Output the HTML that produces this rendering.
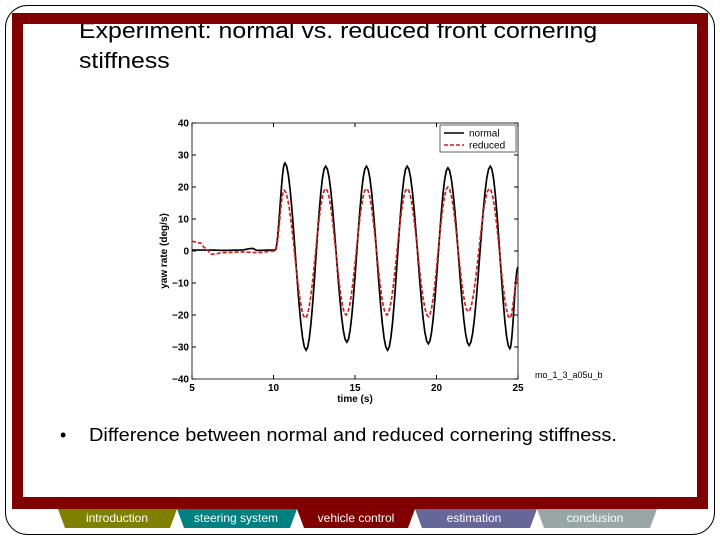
<!DOCTYPE html>
<html><head><meta charset="utf-8"><style>
body{margin:0;background:#fff;font-family:"Liberation Sans",sans-serif;}
#page{position:relative;width:720px;height:540px;overflow:hidden;background:#fff;}
</style></head><body>
<div id="page">
<svg width="720" height="540" style="position:absolute;left:0;top:0">
<rect x="5.5" y="5.5" width="709" height="529" rx="22" fill="#fff" stroke="#000" stroke-width="1"/>
<rect x="12" y="13" width="696" height="496" fill="#800000"/>
<rect x="23" y="24" width="674" height="473" fill="#fff"/>
</svg>
<div style="position:absolute;left:0;top:24px;width:720px;height:60px;overflow:hidden">
<div style="position:absolute;left:79px;top:-8px;font-size:22px;line-height:30px;color:#000;transform:scaleX(1.13);transform-origin:0 0;white-space:nowrap">Experiment: normal vs. reduced front cornering<br>stiffness</div>
</div>
<svg id="chart" width="720" height="540" style="position:absolute;left:0;top:0"></svg>
<div style="position:absolute;left:60px;top:425px;font-size:18px">•</div>
<div style="position:absolute;left:89px;top:425px;font-size:18px;transform:scaleX(1.11);transform-origin:0 0;white-space:nowrap">Difference between normal and reduced cornering stiffness.</div>
<svg width="720" height="540" style="position:absolute;left:0;top:0;pointer-events:none">
<g font-family="Liberation Sans" font-size="12" fill="#fff" text-anchor="middle">
<polygon points="58,509 177,509 170,528 65,528" fill="#808000"/>
<polygon points="177,509 297,509 290,528 184,528" fill="#008080"/>
<polygon points="297,509 415,509 408,528 304,528" fill="#800000"/>
<polygon points="415,509 537,509 530,528 422,528" fill="#666699"/>
<polygon points="537,509 657,509 650,528 544,528" fill="#99a6a6"/>
<text x="117" y="522">introduction</text>
<text x="236" y="522">steering system</text>
<text x="356" y="522">vehicle control</text>
<text x="474" y="522">estimation</text>
<text x="595" y="522">conclusion</text>
</g></svg>
</div>
<script>
const xTicks=[5,10,15,20,25];
const yTicks=[40,30,20,10,0,-10,-20,-30,-40];
const normalT=[5,6,7,8,8.7,9,10.1,10.7,12.0,13.2,14.5,15.7,17.0,18.2,19.5,20.7,22.0,23.3,24.5,25];
const normalV=[0.3,0.3,0.2,0.3,0.8,0.2,0.3,27.5,-31,26.5,-28.5,26.5,-31,26.5,-29,26,-29.5,26.5,-30.5,-5];
const reducedT=[5,5.5,5.8,6.2,7,8,9,10.1,10.65,11.95,13.2,14.45,15.7,16.95,18.2,19.5,20.7,21.95,23.25,24.5,25];
const reducedV=[3,2.5,1,-1,-0.5,-0.3,-0.5,0,19,-21,19.5,-20,19.5,-20,19.5,-20.5,20,-19,19.5,-21,-8];
const svg=document.getElementById('chart');const NS='http://www.w3.org/2000/svg';
const X0=192,X1=518,Y0=379,Y1=123;
const sx=t=>X0+(t-5)/20*(X1-X0);
const sy=v=>Y0-(v+40)/80*(Y0-Y1);
function mk(tag,a,p){const e=document.createElementNS(NS,tag);for(const k in a)e.setAttribute(k,a[k]);(p||svg).appendChild(e);return e;}
const frame=mk('rect',{x:X0,y:Y1,width:X1-X0,height:Y0-Y1,fill:'#fff',stroke:'#000','stroke-width':0.8});


xTicks.forEach(t=>{
 mk('line',{x1:sx(t),x2:sx(t),y1:Y0,y2:Y0-4,stroke:'#000'});mk('line',{x1:sx(t),x2:sx(t),y1:Y1,y2:Y1+4,stroke:'#000'});
 const l=mk('text',{x:sx(t),y:Y0+12,'font-size':10,'font-weight':'bold','text-anchor':'middle','font-family':'Liberation Sans'});l.textContent=t;
 
 
});
yTicks.forEach(v=>{
 mk('line',{x1:X0,x2:X0+4,y1:sy(v),y2:sy(v),stroke:'#000'});mk('line',{x1:X1,x2:X1-4,y1:sy(v),y2:sy(v),stroke:'#000'});
 const l=mk('text',{x:X0-3,y:sy(v)+3.5,'font-size':10,'font-weight':'bold','text-anchor':'end','font-family':'Liberation Sans'});l.textContent=v<0?'\u2212'+(-v):v;
 
 
});
const xl=mk('text',{x:(X0+X1)/2,y:Y0+23,'font-size':10,'font-weight':'bold','text-anchor':'middle','font-family':'Liberation Sans'});xl.textContent='time (s)';


const yl=mk('text',{x:0,y:0,'font-size':10,'font-weight':'bold','text-anchor':'middle','font-family':'Liberation Sans',transform:'translate(167,'+((Y0+Y1)/2)+') rotate(-90)'});yl.textContent='yaw rate (deg/s)';


function path(T,V){let d='M'+sx(T[0])+','+sy(V[0]);
 for(let i=1;i<T.length;i++){const n=12;for(let k=1;k<=n;k++){const f=k/n,w=(1-Math.cos(Math.PI*f))/2;d+=' L'+sx(T[i-1]+(T[i]-T[i-1])*f).toFixed(2)+','+sy(V[i-1]+(V[i]-V[i-1])*w).toFixed(2);}}
 return d;}
const pn=mk('path',{d:path(normalT,normalV),fill:'none',stroke:'#000','stroke-width':1.7});


const pr=mk('path',{d:path(reducedT,reducedV),fill:'none',stroke:'#cc2222','stroke-width':1.7,'stroke-dasharray':'4,2'});


const lg=mk('g',{});


mk('rect',{x:440,y:125,width:76,height:27,fill:'#fff',stroke:'#000','stroke-width':0.6},lg);
mk('line',{x1:444,x2:464,y1:133,y2:133,stroke:'#000','stroke-width':1.6},lg);
mk('line',{x1:444,x2:464,y1:145,y2:145,stroke:'#cc2222','stroke-width':1.6,'stroke-dasharray':'4,2'},lg);
const t1=mk('text',{x:469,y:136.5,'font-size':10,'font-family':'Liberation Sans'},lg);t1.textContent='normal';
const t2=mk('text',{x:469,y:148.5,'font-size':10,'font-family':'Liberation Sans'},lg);t2.textContent='reduced';
const fn=mk('text',{x:535,y:378,'font-size':9,'font-family':'Liberation Sans'});fn.textContent='mo_1_3_a05u_b';


</script>
</body></html>
